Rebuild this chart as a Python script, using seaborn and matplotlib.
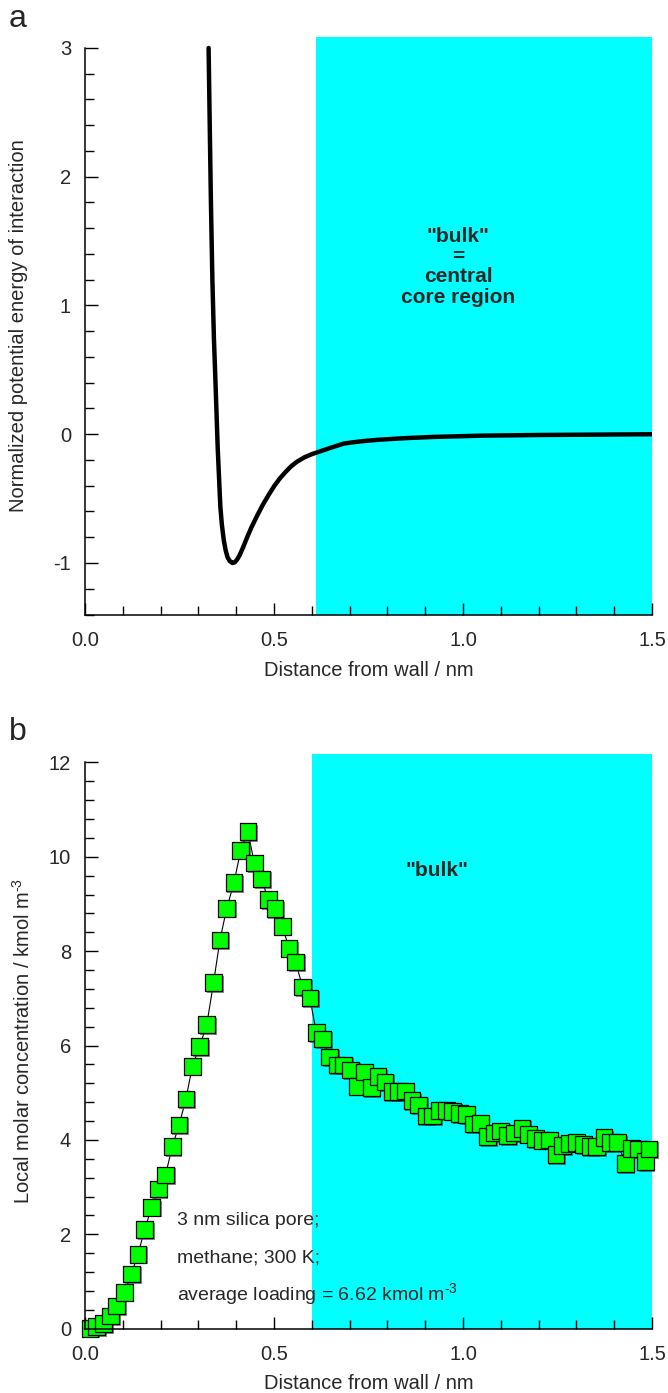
import numpy as np
import pandas as pd
import matplotlib
matplotlib.use("Agg")
import matplotlib.pyplot as plt
import matplotlib.patheffects as pe
from matplotlib.ticker import MultipleLocator, FormatStrFormatter
import seaborn as sns

sns.set_style("ticks")
plt.rcParams["font.family"] = ["Liberation Sans", "DejaVu Sans"]
plt.rcParams["axes.unicode_minus"] = False
plt.rcParams["mathtext.fontset"] = "custom"
plt.rcParams["mathtext.rm"] = "Liberation Sans"
plt.rcParams["mathtext.it"] = "Liberation Sans:italic"
plt.rcParams["mathtext.bf"] = "Liberation Sans:bold"

# ---------------- data ----------------
# panel a: normalized potential energy vs distance from wall
pot_x = [0.327, 0.330, 0.333, 0.337, 0.341, 0.345, 0.351, 0.358, 0.362, 0.367,
         0.372, 0.377, 0.383, 0.390, 0.396, 0.402, 0.409, 0.418, 0.429, 0.440,
         0.455, 0.470, 0.485, 0.500, 0.515, 0.530, 0.545, 0.560, 0.580, 0.600,
         0.620, 0.650, 0.685, 0.730, 0.780, 0.850, 0.920, 1.050, 1.200, 1.350,
         1.500]
pot_y = [3.00, 2.40, 1.82, 1.20, 0.75, 0.42, -0.10, -0.56, -0.70, -0.82,
         -0.90, -0.955, -0.985, -1.00, -0.995, -0.975, -0.94, -0.88, -0.80, -0.725,
         -0.635, -0.55, -0.475, -0.405, -0.345, -0.295, -0.25, -0.215, -0.18, -0.155,
         -0.135, -0.105, -0.072, -0.055, -0.042, -0.030, -0.021, -0.011, -0.006, -0.003,
         0.0]

# panel b: local molar concentration vs distance from wall
conc_x = [0.013, 0.031, 0.049, 0.068, 0.084, 0.104, 0.123, 0.140, 0.158, 0.176,
          0.194, 0.213, 0.231, 0.249, 0.267, 0.284, 0.303, 0.322, 0.340, 0.357,
          0.375, 0.394, 0.412, 0.431, 0.448, 0.467, 0.485, 0.503, 0.522, 0.540,
          0.557, 0.576, 0.595,
          0.612, 0.629, 0.647, 0.667, 0.684, 0.703, 0.721, 0.739, 0.757, 0.775,
          0.794, 0.812, 0.829, 0.847, 0.865, 0.883, 0.902, 0.920, 0.938, 0.956,
          0.973, 0.991, 1.009, 1.028, 1.046, 1.065, 1.083, 1.100, 1.118, 1.136,
          1.156, 1.173, 1.191, 1.209, 1.228, 1.246, 1.264, 1.282, 1.300, 1.318,
          1.336, 1.354, 1.373, 1.391, 1.409, 1.429, 1.446, 1.464, 1.482, 1.492]
conc_y = [0.01, 0.04, 0.11, 0.27, 0.48, 0.77, 1.16, 1.58, 2.10, 2.57,
          2.96, 3.26, 3.86, 4.32, 4.87, 5.56, 5.98, 6.44, 7.33, 8.24,
          8.91, 9.45, 10.14, 10.53, 9.87, 9.53, 9.09, 8.90, 8.53, 8.06,
          7.77, 7.24, 7.01,
          6.27, 6.14, 5.76, 5.59, 5.59, 5.48, 5.14, 5.44, 5.11, 5.34,
          5.23, 5.02, 5.02, 5.04, 4.83, 4.74, 4.51, 4.51, 4.63, 4.63,
          4.61, 4.56, 4.54, 4.34, 4.35, 4.07, 4.15, 4.19, 4.09, 4.15,
          4.25, 4.12, 4.03, 3.99, 4.00, 3.69, 3.88, 3.93, 3.95, 3.90,
          3.86, 3.86, 4.05, 3.94, 3.95, 3.50, 3.82, 3.81, 3.54, 3.81]

bulk_start_a = 0.61
bulk_start_b = 0.60

df_a = pd.DataFrame({"x": pot_x, "y": pot_y})
df_b = pd.DataFrame({"x": conc_x, "y": conc_y})

# ---------------- figure ----------------
W, H = 668, 1393
fig = plt.figure(figsize=(W / 100, H / 100), dpi=100)

def fr(l, t, r, b):
    return [l / W, 1 - b / H, (r - l) / W, (b - t) / H]

ax1 = fig.add_axes(fr(85, 37, 652, 614.5))
ax2 = fig.add_axes(fr(85, 754, 652, 1328.7))

CYAN = "#00FFFF"
TFS = 14.5   # tick labels
LFS = 14.5   # axis labels
AFS = 14     # annotations
BFS = 15     # bold "bulk" text

def style(ax, ymin, ymax, ytop, ymaj, ymin_step):
    ax.set_xlim(0, 1.5)
    ax.set_ylim(ymin, ytop)
    for s in ["top", "right"]:
        ax.spines[s].set_visible(False)
    ax.spines["left"].set_bounds(ymin, ymax)
    ax.spines["bottom"].set_bounds(0, 1.5)
    for s in ["left", "bottom"]:
        ax.spines[s].set_linewidth(1.1)
        ax.spines[s].set_color("black")
        ax.spines[s].set_zorder(5)
    ax.xaxis.set_major_locator(MultipleLocator(0.5))
    ax.xaxis.set_minor_locator(MultipleLocator(0.1))
    ax.xaxis.set_major_formatter(FormatStrFormatter("%.1f"))
    ax.yaxis.set_major_locator(MultipleLocator(ymaj))
    ax.yaxis.set_minor_locator(MultipleLocator(ymin_step))
    ax.tick_params(which="major", direction="in", length=9, width=1.0,
                   labelsize=TFS, color="black")
    ax.tick_params(which="minor", direction="in", length=6.5, width=1.0,
                   color="black")
    ax.tick_params(axis="y", pad=10)
    ax.tick_params(axis="x", pad=12)
    ax.set_facecolor("white")
    ax.grid(False)

# ---- panel a ----
ax1.axvspan(bulk_start_a, 1.5, color=CYAN, lw=0, zorder=0)
sns.lineplot(data=df_a, x="x", y="y", ax=ax1, color="black", lw=3.2,
             sort=False, estimator=None, zorder=3,
             solid_capstyle="round", solid_joinstyle="round")
style(ax1, -1.4, 3.0, 3.085, 1, 0.2)
ax1.set_yticks([-1, 0, 1, 2, 3])
ax1.set_xlabel("Distance from wall / nm", fontsize=LFS, labelpad=8)
ax1.set_ylabel("Normalized potential energy of interaction", fontsize=LFS)
ax1.yaxis.set_label_coords(-0.1005, 0.5)
ax1.text(0.987, 1.30, '"bulk"\n=\ncentral\ncore region', ha="center",
         va="center", fontsize=BFS, fontweight="bold", linespacing=1.08)

# ---- panel b ----
ax2.axvspan(bulk_start_b, 1.5, color=CYAN, lw=0, zorder=0)
sns.lineplot(data=df_b, x="x", y="y", ax=ax2, color="black", lw=0.8,
             sort=False, estimator=None, zorder=2)
sns.scatterplot(data=df_b, x="x", y="y", ax=ax2, marker="s", s=145,
                color="#00FF00", edgecolor="black", linewidth=0.9,
                zorder=3, clip_on=False,
                path_effects=[pe.SimplePatchShadow(offset=(1.2, -1.2),
                                                   shadow_rgbFace="0.25",
                                                   alpha=0.6),
                              pe.Normal()])
style(ax2, 0, 12, 12.18, 2, 0.4)
ax2.set_xlabel("Distance from wall / nm", fontsize=LFS, labelpad=7)
ax2.set_ylabel(r"Local molar concentration / kmol m$^{\text{-3}}$", fontsize=LFS)
ax2.yaxis.set_label_coords(-0.09, 0.5)
ax2.text(0.932, 9.72, '"bulk"', ha="center", va="center",
         fontsize=BFS, fontweight="bold")
ax2.text(0.243, 2.19, "3 nm silica pore;", fontsize=AFS, va="baseline")
ax2.text(0.243, 1.41, "methane; 300 K;", fontsize=AFS, va="baseline")
ax2.text(0.243, 0.61, r"average loading = 6.62 kmol m$^{\text{-3}}$", fontsize=AFS,
         va="baseline")

fig.text(9 / W, 1 - 27 / H, "a", fontsize=23, va="baseline")
fig.text(9 / W, 1 - 740 / H, "b", fontsize=23, va="baseline")

fig.savefig("out.png", dpi=100)
